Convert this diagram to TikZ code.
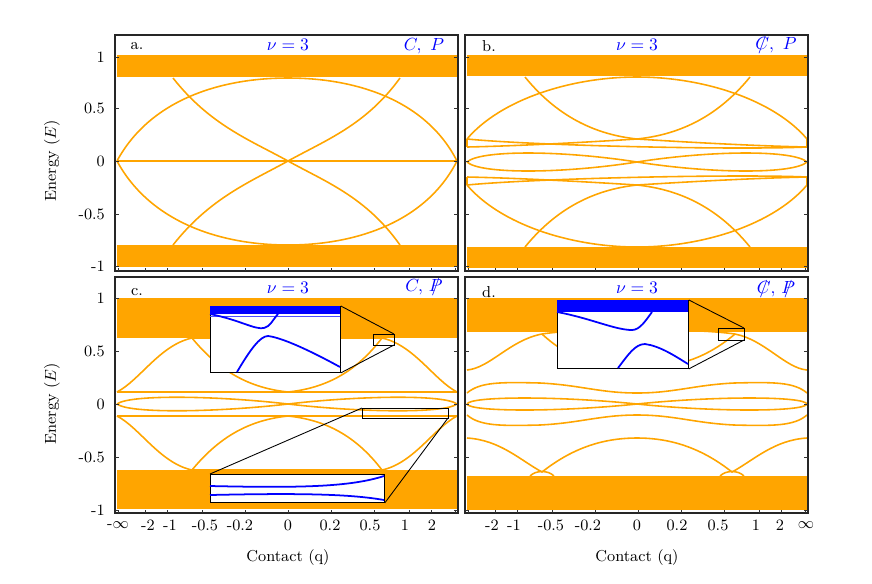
\documentclass[tikz,border=0pt]{standalone}
\usepackage{amsmath}
\usepackage{tikz}
\usetikzlibrary{positioning}
\definecolor{bandorange}{RGB}{255,165,0}
\newcommand{\brokensym}[1]{\ooalign{$#1$\cr\hidewidth$/$\hidewidth\cr}}

\tikzset{
  band/.style={fill=bandorange, draw=none},
  curve/.style={bandorange, line width=0.9pt},
  zcurve/.style={blue, line width=1pt},
  frame/.style={draw=black!85, line width=0.6pt},
  zoombox/.style={draw=black, line width=0.5pt},
  tick/.style={black!80, line width=0.4pt},
  panel/.style={font=\small},
  spin/.style={text=blue, font=\normalsize},
}

\begin{document}
\begin{tikzpicture}[x=0.02cm, y=-0.02cm]
    \useasboundingbox (0,0) rectangle (872,583);

    % bands
    \fill[band] (117,55) rectangle (457,77);
    \fill[band] (117,245) rectangle (457,267);
    \fill[band] (467,55) rectangle (807,76);
    \fill[band] (467,247) rectangle (807,268);
    \fill[band] (117,298) rectangle (457,338);
    \fill[band] (117,470) rectangle (457,509);
    \fill[band] (467,298) rectangle (807,332);
    \fill[band] (467,476) rectangle (807,510);

    % a.
    \draw[curve] (117,161) -- (457,161);
    \draw[curve] (117,161) .. controls (150,100) and (220,78) .. (288,78) .. controls (356,78) and (426,100) .. (457,161);
    \draw[curve] (117,161) .. controls (150,222) and (220,245) .. (288,245) .. controls (356,245) and (426,222) .. (457,161);
    \draw[curve] (173,78) .. controls (210,125) and (250,140) .. (288,161) .. controls (326,182) and (366,197) .. (400,245);
    \draw[curve] (173,245) .. controls (210,198) and (250,182) .. (288,161) .. controls (326,140) and (366,125) .. (400,78);

    % b.
    \draw[curve] (467,139) .. controls (500,100) and (570,77) .. (637,77) .. controls (704,77) and (774,100) .. (807,139);
    \draw[curve] (467,185) .. controls (500,224) and (570,247) .. (637,247) .. controls (704,247) and (774,224) .. (807,185);
    \draw[curve] (525,77) .. controls (560,120) and (600,135) .. (637,139) .. controls (700,143) and (760,146) .. (807,147);
    \draw[curve] (750,77) .. controls (715,120) and (675,135) .. (637,139) .. controls (574,143) and (514,146) .. (467,147);
    \draw[curve] (467,139) .. controls (540,146) and (740,150) .. (807,147) -- (807,139);
    \draw[curve] (467,139) -- (467,147);
    \draw[curve] (525,247) .. controls (560,204) and (600,189) .. (637,185) .. controls (700,181) and (760,178) .. (807,177);
    \draw[curve] (750,247) .. controls (715,204) and (675,189) .. (637,185) .. controls (574,181) and (514,178) .. (467,177);
    \draw[curve] (467,185) .. controls (540,178) and (740,174) .. (807,177) -- (807,185);
    \draw[curve] (467,185) -- (467,177);
    \draw[curve] (467,162) .. controls (480,150) and (560,150) .. (637,162) .. controls (714,174) and (794,174) .. (807,162);
    \draw[curve] (467,162) .. controls (480,174) and (560,174) .. (637,162) .. controls (714,150) and (794,150) .. (807,162);

    % c.
    \draw[curve] (117,392) .. controls (140,380) and (160,345) .. (192,338) -- (382,338) .. controls (414,345) and (434,380) .. (457,392);
    \draw[curve] (117,392) -- (457,392);
    \draw[curve] (192,338) .. controls (220,372) and (250,388) .. (288,392) .. controls (326,388) and (356,372) .. (382,338);
    \draw[curve] (117,416) .. controls (140,428) and (160,463) .. (192,470) -- (382,470) .. controls (414,463) and (434,428) .. (457,416);
    \draw[curve] (117,416) -- (457,416);
    \draw[curve] (192,470) .. controls (220,436) and (250,420) .. (288,416) .. controls (326,420) and (356,436) .. (382,470);
    \draw[curve] (117,404) .. controls (130,394) and (220,396) .. (288,404) .. controls (356,412) and (444,414) .. (457,404);
    \draw[curve] (117,404) .. controls (130,414) and (220,412) .. (288,404) .. controls (356,396) and (444,394) .. (457,404);

    % d.
    \draw[curve] (467,370) .. controls (490,368) and (510,340) .. (542,334) .. controls (580,328) and (694,328) .. (735,334) .. controls (765,340) and (785,368) .. (807,370);
    \draw[curve] (542,334) .. controls (570,360) and (600,368) .. (637,368) .. controls (674,368) and (704,360) .. (735,334);
    \draw[curve] (467,393) .. controls (480,382) and (500,382) .. (540,383) .. controls (580,385) and (600,393) .. (637,393) .. controls (674,393) and (694,385) .. (734,383) .. controls (774,382) and (794,382) .. (807,393);
    \draw[curve] (467,415) .. controls (480,426) and (500,426) .. (540,425) .. controls (580,423) and (600,415) .. (637,415) .. controls (674,415) and (694,423) .. (734,425) .. controls (774,426) and (794,426) .. (807,415);
    \draw[curve] (467,404) .. controls (470,396) and (560,396) .. (637,404) .. controls (714,412) and (804,412) .. (807,404);
    \draw[curve] (467,404) .. controls (470,412) and (560,412) .. (637,404) .. controls (714,396) and (804,396) .. (807,404);
    \draw[curve] (467,438) .. controls (500,440) and (520,460) .. (542,472) .. controls (570,450) and (600,438) .. (637,438) .. controls (674,438) and (704,450) .. (732,472) .. controls (754,460) and (774,440) .. (807,438);
    \draw[curve] (530,476) .. controls (536,470) and (548,470) .. (554,476);
    \draw[curve] (720,476) .. controls (726,470) and (738,470) .. (744,476);

    % insets c.
    \coordinate (zc1nw) at (373,334);
    \coordinate (zc1se) at (394,345);
    \draw[zoombox] (zc1nw) rectangle (zc1se);
    \node[zoombox, fill=white, minimum width=2.6cm, minimum height=1.32cm, inner sep=0, anchor=north west] (insetc1) at (210,306) {};
    \fill[blue] (insetc1.north west) rectangle ++(130,8);
    \draw[blue!70, line width=0.4pt] (210,316) -- (340,316);
    \draw[zcurve] (210,314) .. controls (240,320) and (255,330) .. (264,328) .. controls (270,327) and (274,318) .. (278,314);
    \draw[zcurve] (237,372) .. controls (250,350) and (260,336) .. (268,336) .. controls (285,338) and (320,356) .. (340,367);
    \draw[zoombox] (insetc1.north east) -- (zc1se |- zc1nw);
    \draw[zoombox] (insetc1.south east) -- (zc1se);

    \coordinate (zc2nw) at (362,408);
    \coordinate (zc2se) at (448,418);
    \draw[zoombox] (zc2nw) rectangle (zc2se);
    \node[zoombox, fill=white, minimum width=3.48cm, minimum height=0.56cm, inner sep=0, anchor=north west] (insetc2) at (210,474) {};
    \draw[zcurve] (210,486) .. controls (300,488) and (350,487) .. (384,476);
    \draw[zcurve] (210,495) .. controls (300,493) and (350,494) .. (384,500);
    \draw[zoombox] (insetc2.north west) -- (zc2nw);
    \draw[zoombox] (insetc2.south east) -- (zc2se);

    % inset d.
    \coordinate (zdnw) at (718,328);
    \coordinate (zdse) at (744,340);
    \draw[zoombox] (zdnw) rectangle (zdse);
    \node[zoombox, fill=white, minimum width=2.62cm, minimum height=1.36cm, inner sep=0, anchor=north west] (insetd) at (557,300) {};
    \fill[blue] (insetd.north west) rectangle ++(131,12);
    \draw[zcurve] (557,312) .. controls (590,318) and (615,330) .. (632,330) .. controls (640,330) and (646,320) .. (652,312);
    \draw[zcurve] (618,368) .. controls (628,355) and (635,344) .. (645,344) .. controls (660,346) and (675,356) .. (688,364);
    \draw[zoombox] (insetd.north east) -- (zdse |- zdnw);
    \draw[zoombox] (insetd.south east) -- (zdse);

    % frames and ticks
    \foreach \px/\py in {115/35, 465/35, 115/277, 465/277} {
        \draw[frame] (\px,\py) rectangle ++(343,236);
    }
    \foreach \px in {115, 465} {
        \foreach \yy in {57,108,161,214,266} {
            \draw[tick] (\px,\yy) -- ++(4,0);
            \draw[tick] (\px+343,\yy) -- ++(-4,0);
        }
        \foreach \yy in {298,351,404,457,510} {
            \draw[tick] (\px,\yy) -- ++(4,0);
            \draw[tick] (\px+343,\yy) -- ++(-4,0);
        }
    }
    \foreach \xx in {118,145,167,202,245,288,331,374,409,431,455} {
        \foreach \py in {271,513} {
            \draw[tick] (\xx,\py) -- ++(0,-3);
            \draw[tick] (\xx+350,\py) -- ++(0,-3);
        }
    }

    % y labels
    \foreach \yy/\lab in {57/1, 108/0.5, 161/0, 214/-0.5, 266/-1} {
        \node[panel, anchor=east] at (111,\yy) {\lab};
    }
    \foreach \yy/\lab in {298/1, 351/0.5, 404/0, 457/-0.5, 510/-1} {
        \node[panel, anchor=east] at (111,\yy) {\lab};
    }
    \node[panel, rotate=90] (ylaba) at (52,161) {Energy ($E$)};
    \node[panel, rotate=90] (ylabc) at (52,404) {Energy ($E$)};

    % x labels
    \foreach \xx/\lab in {118/-$\infty$, 148/-2, 170/-1, 205/-0.5, 240/-0.2, 288/0, 330/0.2, 370/0.5, 405/1, 432/2} {
        \node[panel] at (\xx,525) {\lab};
    }
    \foreach \xx/\lab in {492/-2, 514/-1, 551/-0.5, 588/-0.2, 637/0, 677/0.2, 718/0.5, 756/1, 780/2, 806/$\infty$} {
        \node[panel] at (\xx,525) {\lab};
    }
    \node[panel] (xlabc) at (288,558) {Contact (q)};
    \node[panel] (xlabd) at (637,558) {Contact (q)};

    % titles
    \node[panel] (tita) at (137,46) {a.};
    \node[spin] (nua) at (288,45) {$\nu=3$};
    \node[spin] (syma) at (424,46) {$C,\ P$};
    \node[panel] (titb) at (489,46) {b.};
    \node[spin] (nub) at (637,45) {$\nu=3$};
    \node[spin] (symb) at (776,46) {\brokensym{C}$,\ P$};
    \node[panel] (titc) at (137,292) {c.};
    \node[spin] (nuc) at (288,288) {$\nu=3$};
    \node[spin] (symc) at (424,288) {$C,\ $\brokensym{P}};
    \node[panel] (titd) at (489,292) {d.};
    \node[spin] (nud) at (637,288) {$\nu=3$};
    \node[spin] (symd) at (776,290) {\brokensym{C}$,\ $\brokensym{P}};
\end{tikzpicture}
\end{document}
